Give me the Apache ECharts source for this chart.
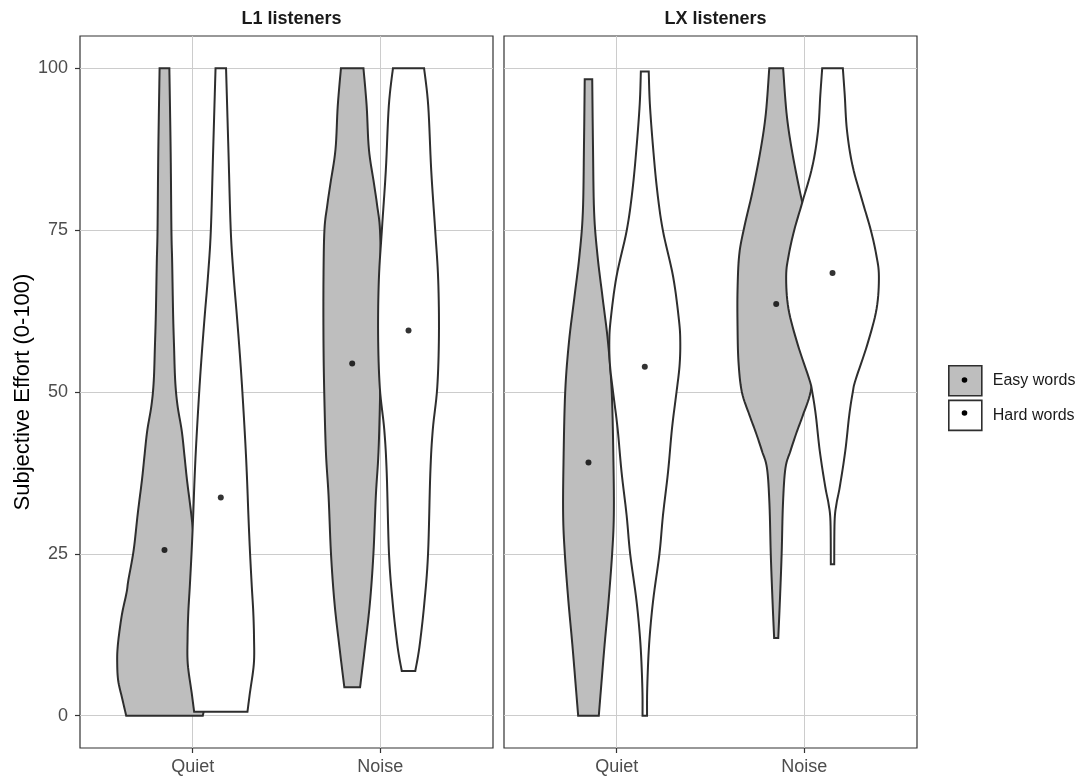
<!DOCTYPE html>
<html>
<head>
<meta charset="utf-8">
<script src="https://cdn.jsdelivr.net/npm/echarts@6/dist/echarts.min.js"></script>
<style>
  html, body { margin: 0; padding: 0; background: #ffffff; }
  #chart { width: 1081px; height: 776px; }
</style>
</head>
<body>
<div id="chart"></div>
<script>
// ---------- data ----------
const categories = ['Quiet', 'Noise'];
const panelTitles = ['L1 listeners', 'LX listeners'];
const groupNames = ['Easy words', 'Hard words'];
const yTicks = [0, 25, 50, 75, 100];
const yAxisTitle = 'Subjective Effort (0-100)';

// violin density profiles: [effort value, half-width in category units]
const l1QuietEasy = [[0,0.204],[2.5,0.224],[5.5,0.247],[8.6,0.252],[10.7,0.249],[13,0.240],[15.9,0.225],[19,0.202],[21,0.192],[25.6,0.164],[31.3,0.142],[36.4,0.120],[40,0.107],[44,0.092],[48,0.069],[51.8,0.057],[57,0.051],[62,0.046],[70,0.041],[75,0.037],[87,0.033],[100,0.026]];
const l1QuietHard = [[0.6,0.142],[3.5,0.155],[8,0.176],[12,0.177],[16,0.173],[20,0.165],[25.6,0.155],[31,0.147],[36.4,0.140],[42,0.131],[50,0.115],[56,0.101],[62,0.085],[68,0.068],[75,0.053],[87,0.041],[100,0.028]];
const l1NoiseEasy = [[4.4,0.042],[7,0.053],[10.6,0.068],[17.3,0.094],[25,0.113],[34,0.126],[40.7,0.140],[50,0.149],[58,0.153],[67.4,0.153],[75,0.148],[78.8,0.133],[82.2,0.116],[87.5,0.089],[94.2,0.077],[100,0.060]];
const l1NoiseHard = [[6.9,0.036],[10.6,0.058],[17.3,0.084],[25,0.104],[37.4,0.116],[44.1,0.129],[50.7,0.153],[58.8,0.162],[67.4,0.158],[75,0.142],[84.2,0.121],[94.2,0.105],[100,0.083]];
const lxQuietEasy = [[0,0.055],[4.3,0.067],[11,0.086],[17.7,0.107],[25,0.126],[31,0.135],[39.2,0.133],[50,0.124],[57.7,0.104],[64.4,0.076],[71.1,0.048],[77.8,0.030],[88,0.024],[98.3,0.020]];
const lxQuietHard = [[0,0.012],[4.3,0.013],[11,0.023],[17.7,0.044],[25,0.078],[31,0.097],[37.7,0.124],[44.4,0.145],[50,0.169],[54,0.185],[57.7,0.189],[61.1,0.182],[67.8,0.151],[75,0.096],[81.1,0.066],[87.8,0.044],[94.5,0.027],[99.5,0.021]];
const lxNoiseEasy = [[12,0.011],[18,0.020],[25,0.029],[32.7,0.036],[38.2,0.049],[40.9,0.076],[43.7,0.108],[46.4,0.142],[50,0.183],[54.7,0.201],[60.2,0.206],[65.7,0.206],[71.2,0.197],[75.5,0.170],[81,0.126],[87.6,0.082],[93.1,0.055],[100,0.037]];
const lxNoiseHard = [[23.4,0.009],[30,0.011],[32.7,0.021],[35.4,0.039],[40.9,0.068],[46.4,0.089],[50,0.108],[51.9,0.123],[57.4,0.186],[62.9,0.235],[67.9,0.247],[71.2,0.233],[75,0.204],[79.4,0.160],[84.9,0.107],[90.4,0.077],[95.9,0.065],[100,0.055]];

// mean effort per condition [Quiet, Noise]
const l1EasyMeans = [25.6, 54.4];
const l1HardMeans = [33.7, 59.5];
const lxEasyMeans = [39.1, 63.6];
const lxHardMeans = [53.9, 68.4];

// ---------- drawing ----------
const DODGE = 0.15;
const EASY_FILL = '#BEBEBE';
const HARD_FILL = '#FFFFFF';
const OUTLINE = '#2E2E2E';
const LINE_W = 2;
const FONT = '"Liberation Sans", Arial, Helvetica, sans-serif';

function spline(pts, steps) {
  const out = [];
  const n = pts.length;
  for (let i = 0; i < n - 1; i++) {
    const p0 = pts[Math.max(i - 1, 0)], p1 = pts[i], p2 = pts[i + 1], p3 = pts[Math.min(i + 2, n - 1)];
    for (let s = 0; s < steps; s++) {
      const t = s / steps, t2 = t * t, t3 = t2 * t;
      const f = (a, b, c, d) => 0.5 * (2 * b + (-a + c) * t + (2 * a - 5 * b + 4 * c - d) * t2 + (-a + 3 * b - 3 * c + d) * t3);
      out.push([f(p0[0], p1[0], p2[0], p3[0]), f(p0[1], p1[1], p2[1], p3[1])]);
    }
  }
  out.push(pts[n - 1]);
  return out;
}

function violinSeries(name, gridIdx, profiles, side, fill) {
  return {
    type: 'custom', name: name,
    xAxisIndex: gridIdx, yAxisIndex: gridIdx,
    data: profiles.map((p, i) => [i + 1, 50]),
    encode: { x: 0, y: 1 },
    silent: true,
    itemStyle: { color: fill, borderColor: OUTLINE, borderWidth: LINE_W },
    renderItem: function (params, api) {
      const prof = profiles[params.dataIndex];
      const cx = api.value(0) + side * DODGE;
      const left = prof.map(d => api.coord([cx - d[1], d[0]]));
      const right = prof.map(d => api.coord([cx + d[1], d[0]])).reverse();
      const pts = spline(left, 8).concat(spline(right, 8));
      return {
        type: 'polygon',
        shape: { points: pts },
        style: { fill: fill, stroke: OUTLINE, lineWidth: LINE_W, lineJoin: 'miter' }
      };
    }
  };
}

function meanSeries(gridIdx, means, side) {
  return {
    type: 'scatter', name: 'mean' + gridIdx + side,
    xAxisIndex: gridIdx, yAxisIndex: gridIdx,
    data: means.map((m, i) => [i + 1 + side * DODGE, m]),
    symbol: 'circle', symbolSize: 6,
    itemStyle: { color: '#000000' },
    silent: true, z: 5
  };
}

const grids = [
  { left: 80, width: 413, top: 36, height: 712 },
  { left: 504, width: 413, top: 36, height: 712 }
].map(g => Object.assign(g, { show: true, borderColor: '#333333', borderWidth: 1.2, backgroundColor: '#ffffff' }));

const xAxes = [0, 1].map(i => ({
  gridIndex: i, type: 'value', min: 0.4, max: 2.6, position: 'bottom',
  axisLine: { show: false, onZero: false },
  axisTick: { show: true, customValues: [1, 2], length: 5, lineStyle: { color: '#333333', width: 1.2 } },
  axisLabel: { customValues: [1, 2], formatter: v => categories[Math.round(v) - 1], fontSize: 18, color: '#4D4D4D', margin: 10, fontFamily: FONT },
  splitLine: { show: true, lineStyle: { color: '#CCCCCC', width: 1 } }
}));

const yAxes = [0, 1].map(i => ({
  gridIndex: i, type: 'value', min: -5, max: 105, position: 'left',
  name: i === 0 ? yAxisTitle : '',
  nameLocation: 'middle', nameRotate: 90, nameGap: 46,
  nameTextStyle: { fontSize: 22, color: '#000000', fontFamily: FONT },
  axisLine: { show: false, onZero: false },
  axisTick: { show: i === 0, customValues: yTicks, length: 5, lineStyle: { color: '#333333', width: 1.2 } },
  axisLabel: { show: i === 0, customValues: yTicks, fontSize: 18, color: '#4D4D4D', margin: 12, fontFamily: FONT },
  splitLine: { show: true, lineStyle: { color: '#CCCCCC', width: 1 } }
}));

const option = {
  animation: false,
  backgroundColor: '#ffffff',
  textStyle: { fontFamily: FONT },
  title: panelTitles.map((t, i) => ({
    text: t,
    left: grids[i].left + grids[i].width / 2,
    top: 5,
    textAlign: 'center',
    textStyle: { fontSize: 18, fontWeight: 'bold', color: '#1A1A1A', fontFamily: FONT }
  })),
  legend: {
    orient: 'vertical', left: 948, top: 365, padding: 0,
    itemWidth: 33, itemHeight: 30, itemGap: 3,
    icon: 'rect',
    selectedMode: false,
    textStyle: { fontSize: 16, color: '#1A1A1A', fontFamily: FONT, padding: [0, 0, 0, 6] },
    data: [
      { name: groupNames[0], itemStyle: { color: EASY_FILL, borderColor: OUTLINE, borderWidth: 1.6 } },
      { name: groupNames[1], itemStyle: { color: HARD_FILL, borderColor: OUTLINE, borderWidth: 1.6 } }
    ]
  },
  graphic: [
    { type: 'circle', shape: { cx: 964.5, cy: 380, r: 2.8 }, style: { fill: '#000000' }, z: 100 },
    { type: 'circle', shape: { cx: 964.5, cy: 413, r: 2.8 }, style: { fill: '#000000' }, z: 100 }
  ],
  grid: grids,
  xAxis: xAxes,
  yAxis: yAxes,
  series: [
    violinSeries(groupNames[0], 0, [l1QuietEasy, l1NoiseEasy], -1, EASY_FILL),
    violinSeries(groupNames[1], 0, [l1QuietHard, l1NoiseHard], 1, HARD_FILL),
    violinSeries(groupNames[0], 1, [lxQuietEasy, lxNoiseEasy], -1, EASY_FILL),
    violinSeries(groupNames[1], 1, [lxQuietHard, lxNoiseHard], 1, HARD_FILL),
    meanSeries(0, l1EasyMeans, -1),
    meanSeries(0, l1HardMeans, 1),
    meanSeries(1, lxEasyMeans, -1),
    meanSeries(1, lxHardMeans, 1)
  ]
};

const chart = echarts.init(document.getElementById('chart'), null, { renderer: 'canvas' });
chart.setOption(option);
</script>
</body>
</html>
